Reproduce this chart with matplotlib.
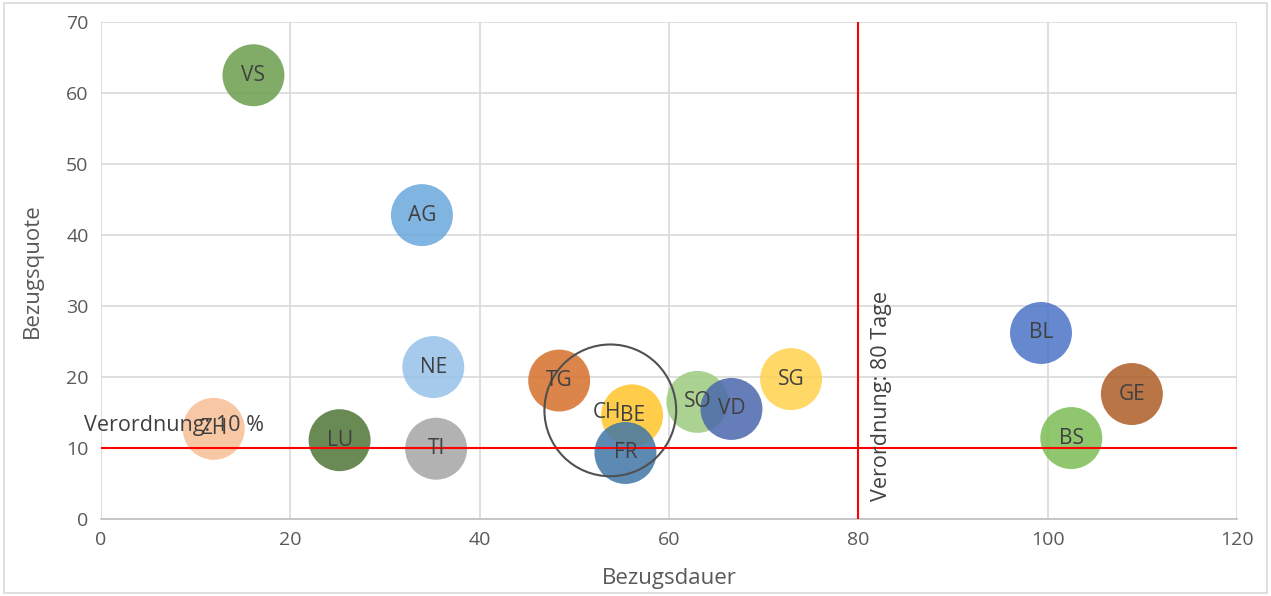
import matplotlib.pyplot as plt
from matplotlib.patches import Rectangle

plt.rcParams['font.family'] = ['Open Sans', 'DejaVu Sans']

kantone = ["VS", "AG", "NE", "TG", "ZH", "LU", "TI", "BE", "FR", "SO", "VD", "SG", "BL", "GE", "BS"]
dauer = [16.1, 33.9, 35.1, 48.4, 11.9, 25.2, 35.4, 56.1, 55.4, 63.0, 66.6, 72.9, 99.3, 108.9, 102.5]
quote = [62.5, 42.8, 21.4, 19.5, 12.7, 11.1, 9.9, 14.6, 9.3, 16.5, 15.5, 19.7, 26.2, 17.6, 11.4]
farben = ["#6A9E4C", "#6AA7DC", "#97C1E8", "#D6702A", "#F7BD93", "#4F7637", "#A5A5A5",
          "#FFC52A", "#3F76A6", "#9CCB7E", "#4A68AD", "#FFD24D", "#4A73C7", "#AE5D25", "#7DBE55"]

ch_dauer = 53.8
ch_quote = 15.3

grenze_quote = 10
grenze_dauer = 80

fig = plt.figure(figsize=(12.71, 5.96), dpi=100)
ax = fig.add_axes([0.0795, 0.1292, 0.8937, 0.8339])

for k, x, y, c in zip(kantone, dauer, quote, farben):
    ax.scatter(x, y, s=1990, color=c, alpha=0.85, edgecolors='none', zorder=3)
ax.scatter(ch_dauer, ch_quote, s=9000, facecolors='none', edgecolors='#505050', linewidths=1.5, zorder=4)

for k, x, y in zip(kantone, dauer, quote):
    ax.text(x, y, k, ha='center', va='center', fontsize=15, color='#404040', zorder=6)
ax.text(ch_dauer - 0.3, ch_quote - 0.3, "CH", ha='center', va='center', fontsize=15, color='#404040', zorder=6)

ax.axhline(grenze_quote, color='red', lw=1.5, zorder=5)
ax.plot([grenze_dauer, grenze_dauer], [0, 70], color='red', lw=1.5, zorder=5)
ax.text(-1.8, 13.2, "Verordnung: 10 %", ha='left', va='center', fontsize=15.5, color='#404040', zorder=6, clip_on=False)
ax.text(82.4, 2.5, "Verordnung: 80 Tage", ha='center', va='bottom', rotation=90, fontsize=15.5, color='#404040', zorder=6)

ax.set_xlim(0, 120)
ax.set_ylim(0, 70)
ax.set_xticks(range(0, 121, 20))
ax.set_yticks(range(0, 71, 10))
ax.grid(True, color='#D9D9D9', lw=1.2, zorder=0)
ax.set_axisbelow(True)
for s in ['top', 'right', 'left']:
    ax.spines[s].set_visible(False)
ax.spines['bottom'].set_color('#BFBFBF')
ax.spines['bottom'].set_linewidth(1.2)
ax.tick_params(length=0, labelsize=14, labelcolor='#595959', pad=9)
ax.set_xlabel("Bezugsdauer", fontsize=16, color='#595959', labelpad=13)
ax.set_ylabel("Bezugsquote", fontsize=16, color='#595959', labelpad=17)

fig.patches.append(Rectangle((0.003, 0.005), 0.994, 0.99, transform=fig.transFigure,
                             fill=False, edgecolor='#D9D9D9', lw=1.2))

fig.savefig("out.png", dpi=100)
